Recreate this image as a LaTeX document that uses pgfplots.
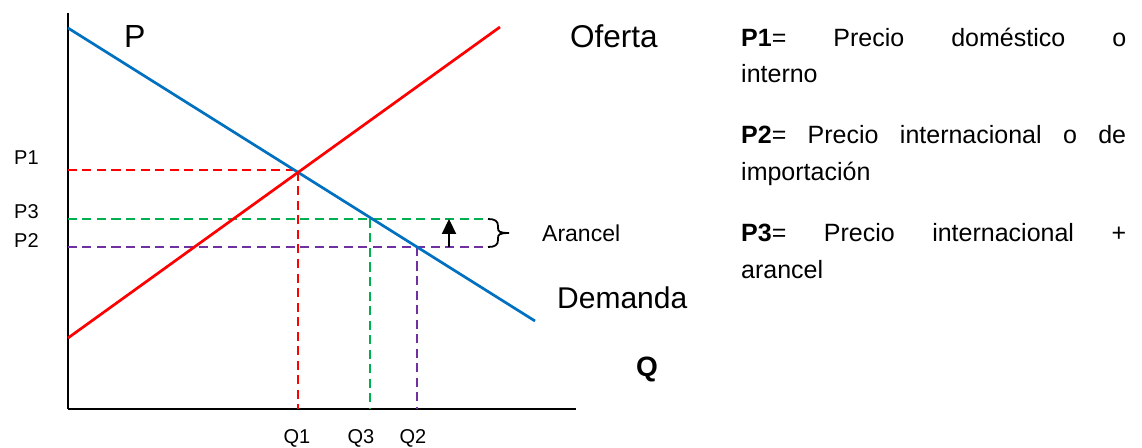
\documentclass[border=0pt]{standalone}
\usepackage{pgfplots}
\pgfplotsset{compat=1.18}
\usepackage{fontspec}
\setmainfont{Liberation Sans}
\usetikzlibrary{arrows.meta}

\definecolor{azul}{RGB}{0,112,192}
\definecolor{rojo}{RGB}{255,0,0}
\definecolor{verde}{RGB}{0,176,80}
\definecolor{morado}{RGB}{112,48,160}

\newcommand{\fs}[1]{\fontsize{#1}{#1}\selectfont}
\tikzset{guia/.style={line width=2.4pt, dash pattern=on 9pt off 5.5pt}}

\begin{document}
\begin{tikzpicture}
\begin{axis}[
  scale only axis, width=508pt, height=396pt,
  xmin=0, xmax=508, ymin=0, ymax=396,
  axis lines=left, axis line style={-, line width=2.8pt, black},
  xtick=\empty, ytick=\empty,
  clip=false,
]
% lineas guia (precios y cantidades)
\addplot[guia, rojo, no marks] coordinates {(0,239) (230,239) (230,0)};
\addplot[guia, verde, no marks] coordinates {(0,190) (420,190)};
\addplot[guia, verde, no marks] coordinates {(302,190) (302,0)};
\addplot[guia, morado, no marks] coordinates {(0,162) (420,162)};
\addplot[guia, morado, no marks] coordinates {(349,162) (349,0)};
% demanda y oferta
\addplot[azul, line width=2.7pt, no marks] coordinates {(0,381) (467,88)};
\addplot[rojo, line width=2.7pt, no marks] coordinates {(0,71) (432,382)};
% arancel
\addplot[black, line width=2.2pt, no marks, -{Triangle[width=14pt,length=15pt]}] coordinates {(381,162) (381,190)};
\draw[line width=1.8pt] (axis cs:420,190) .. controls (axis cs:427,190) and (axis cs:430,188) .. (axis cs:430,183)
  -- (axis cs:430,181) .. controls (axis cs:430,177.5) and (axis cs:431.5,176) .. (axis cs:441,176)
  (axis cs:441,176) .. controls (axis cs:431.5,176) and (axis cs:430,174.5) .. (axis cs:430,171)
  -- (axis cs:430,169) .. controls (axis cs:430,164) and (axis cs:427,162) .. (axis cs:420,162);

% etiquetas
\node[anchor=base west, inner sep=0pt, font=\fs{20}] at (axis cs:-54,244) {P1};
\node[anchor=base west, inner sep=0pt, font=\fs{20}] at (axis cs:-54,190) {P3};
\node[anchor=base west, inner sep=0pt, font=\fs{20}] at (axis cs:-54,161) {P2};
\node[anchor=base, inner sep=0pt, font=\fs{20}] at (axis cs:229,-34) {Q1};
\node[anchor=base, inner sep=0pt, font=\fs{20}] at (axis cs:293,-34) {Q3};
\node[anchor=base, inner sep=0pt, font=\fs{20}] at (axis cs:345,-34) {Q2};
\node[anchor=base west, inner sep=0pt, font=\fs{32}] at (axis cs:56,361) {P};
\node[anchor=base west, inner sep=0pt, font=\fs{31.5}] at (axis cs:502,361) {Oferta};
\node[anchor=base west, inner sep=0pt, font=\fs{30}] at (axis cs:489,101) {Demanda};
\node[anchor=base west, inner sep=0pt, font=\fs{28}\bfseries] at (axis cs:568,33) {Q};
\node[anchor=base west, inner sep=0pt, font=\fs{23}] at (axis cs:474,167) {Arancel};

% texto explicativo
\node[anchor=base west, inner sep=0pt, font=\fs{25}] at (axis cs:673,362) {\makebox[385pt][s]{\textbf{P1}= Precio doméstico o}};
\node[anchor=base west, inner sep=0pt, font=\fs{25}] at (axis cs:673,326) {interno};
\node[anchor=base west, inner sep=0pt, font=\fs{25}] at (axis cs:673,265) {\makebox[385pt][s]{\textbf{P2}= Precio internacional o de}};
\node[anchor=base west, inner sep=0pt, font=\fs{25}] at (axis cs:673,228) {importación};
\node[anchor=base west, inner sep=0pt, font=\fs{25}] at (axis cs:673,167) {\makebox[385pt][s]{\textbf{P3}= Precio internacional +}};
\node[anchor=base west, inner sep=0pt, font=\fs{25}] at (axis cs:673,131) {arancel};
\end{axis}
\pgfresetboundingbox
\useasboundingbox (-68pt,-38pt) rectangle (1074pt,409pt);
\end{tikzpicture}
\end{document}
